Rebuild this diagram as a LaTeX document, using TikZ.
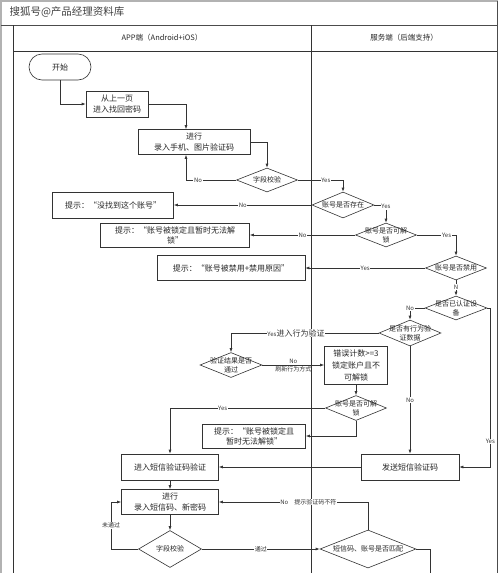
\documentclass[tikz,border=0pt]{standalone}
\usepackage{fontspec}
\setmainfont{Noto Sans CJK SC}
\usetikzlibrary{shapes.geometric,arrows.meta}
\begin{document}
\begin{tikzpicture}[x=1pt,y=-1pt,
  ln/.style={draw=black!80, line width=0.6pt},
  box/.style={ln, fill=white, inner sep=1pt, align=center, text=black!85,
    font=\fontsize{8}{11}\selectfont},
  dia/.style={ln, diamond, fill=white, inner sep=0pt},
  dtext/.style={align=center, text=black!85, font=\fontsize{7}{9}\selectfont, inner sep=0pt},
  arr/.style={ln, -{Latex[length=4pt,width=3pt]}},
  lbl/.style={font=\fontsize{6}{7}\selectfont, fill=white, inner sep=0.6pt, text=black!80, align=center},
  hdr/.style={font=\fontsize{7.5}{9}\selectfont, text=black!85}
]
\useasboundingbox (0,0) rectangle (500,573);
% frame and lanes
\draw[gray!60, line width=2pt] (1,573) -- (1,1) -- (498,1);
\draw[black!70, line width=0.7pt] (1,25) -- (497,25);
\draw[black!70, line width=0.7pt] (497,1) -- (497,573);
\draw[black!80, line width=0.7pt] (13,25) -- (13,573);
\draw[black!80, line width=0.7pt] (13,51) -- (497,51);
\draw[black!80, line width=0.7pt] (311,25) -- (311,573);
\node[anchor=west, font=\fontsize{10.5}{12}\selectfont, text=black!75] (title) at (6,12) {搜狐号@产品经理资料库};
\node[hdr] (lane1) at (162,38) {APP端（Android+iOS）};
\node[hdr] (lane2) at (404,38) {服务端（后端支持）};

% nodes
\node[box, rounded corners=13pt, minimum width=62pt, minimum height=26pt] (start) at (60,67) {开始};
\node[box, minimum width=62pt, minimum height=26pt] (b1) at (117,104) {从上一页\\进入找回密码};
\node[box, minimum width=112pt, minimum height=25pt] (b2) at (194,142) {进行\\录入手机、图片验证码};
\node[dia, minimum width=61pt, minimum height=24pt, label={[dtext]center:{字段校验}}] (d1) at (267,180) {};
\node[dia, minimum width=62pt, minimum height=26pt, label={[dtext]center:{账号是否存在}}] (d2) at (343,205) {};
\node[box, minimum width=121pt, minimum height=26pt] (t1) at (113,205) {提示：“没找到这个账号”};
\node[dia, minimum width=61pt, minimum height=24pt, label={[dtext]center:{账号是否可解\\锁}}] (d3) at (386,235) {};
\node[box, minimum width=149pt, minimum height=24pt, font=\fontsize{8}{10}\selectfont] (t2) at (175,235) {提示：“账号被锁定且暂时无法解\\锁”};
\node[dia, minimum width=61pt, minimum height=24pt, label={[dtext]center:{账号是否禁用}}] (d4) at (456,268) {};
\node[box, minimum width=148pt, minimum height=25pt] (t3) at (231,268) {提示：“账号被禁用+禁用原因”};
\node[dia, minimum width=62pt, minimum height=24pt, label={[dtext]center:{是否已认证设\\备}}] (d5) at (456,308) {};
\node[dia, minimum width=62pt, minimum height=26pt, label={[dtext]center:{是否有行为验\\证数据}}] (d6) at (410,333) {};
\node[dia, minimum width=62pt, minimum height=25pt, label={[dtext]center:{验证结果是否\\通过}}] (d7) at (231,365) {};
\node[box, minimum width=63pt, minimum height=38pt, font=\fontsize{8}{12}\selectfont] (b3) at (356,365) {错误计数>=3\\锁定账户且不\\可解锁};
\node[dia, minimum width=61pt, minimum height=25pt, label={[dtext]center:{账号是否可解\\锁}}] (d8) at (356,408) {};
\node[box, minimum width=103pt, minimum height=24pt, font=\fontsize{8}{10}\selectfont] (t4) at (254,436) {提示：“账号被锁定且\\暂时无法解锁”};
\node[box, minimum width=98pt, minimum height=26pt] (b4) at (410,467) {发送短信验证码};
\node[box, minimum width=97pt, minimum height=26pt] (b5) at (170,467) {进入短信验证码验证};
\node[box, minimum width=97pt, minimum height=25pt] (b6) at (170,502) {进行\\录入短信码、新密码};
\node[dia, minimum width=63pt, minimum height=37pt, label={[dtext]center:{字段校验}}] (d9) at (170,549) {};
\node[dia, minimum width=96pt, minimum height=38pt, label={[dtext]center:{短信码、账号是否匹配}}] (d10) at (368,549) {};
\coordinate (offb) at (430,580);

% connectors
\draw[arr] (start.south) |- (b1.west);
\draw[arr] (b1.east) -| ([xshift=-8pt]b2.north);
\draw[arr] (b2.east) -| (d1.north);
\draw[arr] (d1.west) -| node[lbl, pos=0.38] {No} ([xshift=-8pt]b2.south);
\draw[arr] (d1.east) -| node[lbl, pos=0.31] {Yes} (d2.north);
\draw[arr] (d2.west) -- node[lbl, pos=0.5] {No} (t1.east);
\draw[arr] (d2.east) -| node[lbl, pos=0.55] {Yes} (d3.north);
\draw[arr] (d3.west) -- node[lbl, pos=0.5] {No} (t2.east);
\draw[arr] (d3.east) -| node[lbl, pos=0.38] {Yes} (d4.north);
\draw[arr] (d4.west) -- node[lbl, pos=0.5] {Yes} (t3.east);
\draw[arr] (d4.south) -- node[lbl, pos=0.45] {N} (d5.north);
\draw[arr] (d5.west) -| node[lbl, pos=0.5] {No} (d6.north);
\draw[arr] (d5.east) -- ++(3,0) |- node[lbl, pos=0.42] {Yes} (b4.east);
\draw[arr] (d6.west) -| node[lbl, pos=0.28] {{\fontsize{6}{6}\selectfont Yes}{\fontsize{8}{9}\selectfont 进入行为验证}} (d7.north);
\draw[arr] (d7.east) -- node[lbl, fill=none, above=0.5pt, pos=0.5] {No} node[lbl, fill=none, below=0.5pt, pos=0.5] {刷新行为方式} (b3.west);
\draw[arr] (b3.south) -- (d8.north);
\draw[arr] (d8.west) -| node[lbl, pos=0.33] {Yes} (b5.north);
\draw[arr] (d8.south) |- (t4.east);
\draw[arr] (d6.south) -- node[lbl, pos=0.5] {No} (b4.north);
\draw[arr] (b4.west) -- (b5.east);
\draw[arr] (b5.south) -- (b6.north);
\draw[arr] (b6.south) -- (d9.north);
\draw[arr] (d9.west) -- ++(-27,0) |- node[lbl, pos=0.25] {未通过} (b6.west);
\draw[arr] (d9.east) -- node[lbl, pos=0.5] {通过} (d10.west);
\draw[arr] (d10.north) |- node[lbl, pos=0.70] {No\quad 提示验证码不符} (b6.east);
\draw[ln] (d10.east) -| (offb);
\end{tikzpicture}
\end{document}
